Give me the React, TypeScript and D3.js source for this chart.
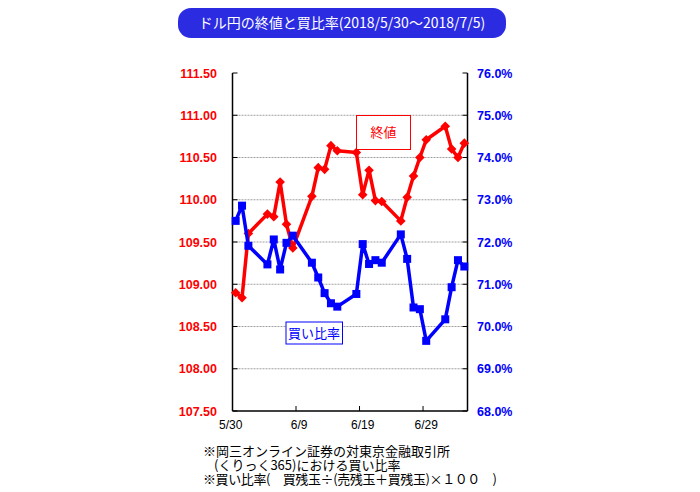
import React from "react";
import * as d3 from "d3";

const dates = [
  "2018-05-30", "2018-05-31", "2018-06-01", "2018-06-04", "2018-06-05", "2018-06-06", "2018-06-07", "2018-06-08",
  "2018-06-11", "2018-06-12", "2018-06-13", "2018-06-14", "2018-06-15", "2018-06-18", "2018-06-19", "2018-06-20",
  "2018-06-21", "2018-06-22", "2018-06-25", "2018-06-26", "2018-06-27", "2018-06-28", "2018-06-29", "2018-07-02",
  "2018-07-03", "2018-07-04", "2018-07-05",
];
const closeValues = [
  108.90, 108.84, 109.60, 109.83, 109.80, 110.21, 109.71, 109.43,
  110.04, 110.38, 110.36, 110.64, 110.58, 110.56, 110.06, 110.35,
  109.99, 109.98, 109.75, 110.03, 110.28, 110.50, 110.71, 110.87,
  110.60, 110.50, 110.67,
];
const buyRatio = [
  72.50, 72.86, 71.91, 71.47, 72.06, 71.35, 71.98, 72.15,
  71.51, 71.16, 70.79, 70.55, 70.47, 70.77, 71.95, 71.48,
  71.57, 71.51, 72.18, 71.60, 70.45, 70.41, 69.66, 70.17,
  70.93, 71.57, 71.42,
];
const leftTicks = [107.5, 108, 108.5, 109, 109.5, 110, 110.5, 111, 111.5];
const rightTicks = [68, 69, 70, 71, 72, 73, 74, 75, 76];
const xTickDates = ["2018-05-30", "2018-06-09", "2018-06-19", "2018-06-29"];
const xTickLabels = ["5/30", "6/9", "6/19", "6/29"];
const title = "ドル円の終値と買比率(2018/5/30〜2018/7/5)";
const closeLabel = "終値";
const ratioLabel = "買い比率";
const notes = [
  "※岡三オンライン証券の対東京金融取引所",
  "(くりっく365)における買い比率",
  "※買い比率(　買残玉÷(売残玉＋買残玉)×１００　)",
];

const parse = (s: string) => {
  const [y, m, d] = s.split("-").map(Number);
  return new Date(y, m - 1, d);
};
const mid = (s: string) => {
  const dt = parse(s);
  dt.setHours(12);
  return dt;
};

const L = 232.5, R = 467.5, T = 73, B = 411;
const JP = "'Noto Sans CJK JP', sans-serif";
const AR = "'Liberation Sans', Arial, sans-serif";

export default function App() {
  const x = d3.scaleTime().domain([parse("2018-05-30"), parse("2018-07-06")]).range([L, R]);
  const yL = d3.scaleLinear().domain([107.5, 111.5]).range([B, T]);
  const yR = d3.scaleLinear().domain([68, 76]).range([B, T]);

  const closeLine = d3.line<number>().x((_, i) => x(mid(dates[i]))).y((v) => yL(v));
  const ratioLine = d3.line<number>().x((_, i) => x(mid(dates[i]))).y((v) => yR(v));

  return (
    <svg width={700} height={492} style={{ position: "absolute", left: 0, top: 0, background: "#fff" }}>
      {/* title */}
      <rect x={178} y={8} width={328} height={30} rx={13} fill="#2b2be2" />
      <text x={342} y={28} textAnchor="middle" fill="#fff" fontFamily={JP} fontSize={14}>{title}</text>

      {/* gridlines */}
      {leftTicks.slice(1, -1).map((t) => (
        <line key={"g" + t} x1={L} x2={R} y1={yL(t)} y2={yL(t)} stroke="#a0a0a0" strokeWidth={1} strokeDasharray="2,1" />
      ))}

      {/* axes */}
      <line x1={L} x2={L} y1={T} y2={B} stroke="#000" strokeWidth={1.5} />
      <line x1={R} x2={R} y1={T} y2={B} stroke="#000" strokeWidth={1.5} />
      <line x1={L} x2={R} y1={B} y2={B} stroke="#000" strokeWidth={1.5} />
      {leftTicks.map((t) => (
        <g key={"l" + t}>
          <line x1={L} x2={L + 5} y1={yL(t)} y2={yL(t)} stroke="#000" />
          <text x={217} y={yL(t) + 4.5} textAnchor="end" fill="#ff0000" fontFamily={AR} fontWeight="bold" fontSize={12.5}>{t.toFixed(2)}</text>
        </g>
      ))}
      {rightTicks.map((t) => (
        <g key={"r" + t}>
          <line x1={R - 5} x2={R} y1={yR(t)} y2={yR(t)} stroke="#000" />
          <text x={477} y={yR(t) + 4.5} textAnchor="start" fill="#0000ff" fontFamily={AR} fontWeight="bold" fontSize={12.5}>{t.toFixed(1) + "%"}</text>
        </g>
      ))}
      {xTickDates.map((d, i) => (
        <g key={"x" + d}>
          <line x1={x(parse(d))} x2={x(parse(d))} y1={B - 5} y2={B} stroke="#000" />
          <text x={x(mid(d)) - (i === 0 ? 5 : 0)} y={429} textAnchor="middle" fill="#000" fontFamily={AR} fontSize={12}>{xTickLabels[i]}</text>
        </g>
      ))}

      {/* close series */}
      <path d={closeLine(closeValues) || ""} fill="none" stroke="#ff0000" strokeWidth={3.5} strokeLinejoin="round" />
      {closeValues.map((v, i) => {
        const cx = x(mid(dates[i]));
        const cy = yL(v);
        const s = 4.8;
        return <path key={"c" + i} d={`M${cx},${cy - s}L${cx + s},${cy}L${cx},${cy + s}L${cx - s},${cy}Z`} fill="#ff0000" />;
      })}

      {/* ratio series */}
      <path d={ratioLine(buyRatio) || ""} fill="none" stroke="#0000ff" strokeWidth={3.5} strokeLinejoin="round" />
      {buyRatio.map((v, i) => {
        const cx = x(mid(dates[i]));
        const cy = yR(v);
        return <rect key={"b" + i} x={cx - 4} y={cy - 4} width={8} height={8} fill="#0000ff" />;
      })}

      {/* legend labels */}
      <rect x={356.5} y={115.5} width={54} height={34} fill="#fff" stroke="#ff0000" strokeWidth={1} />
      <text x={383.5} y={137} textAnchor="middle" fill="#ff0000" fontFamily={JP} fontSize={13}>{closeLabel}</text>
      <rect x={286} y={322} width={56.5} height={22} fill="#fff" stroke="#0000ff" strokeWidth={1} />
      <text x={314} y={338} textAnchor="middle" fill="#0000ff" fontFamily={JP} fontSize={13}>{ratioLabel}</text>

      {/* notes */}
      <text x={203} y={456} fill="#000" fontFamily={JP} fontSize={13}>{notes[0]}</text>
      <text x={214} y={470} fill="#000" fontFamily={JP} fontSize={13}>{notes[1]}</text>
      <text x={203} y={484} fill="#000" fontFamily={JP} fontSize={13} textLength={294} lengthAdjust="spacing">{notes[2]}</text>
    </svg>
  );
}
